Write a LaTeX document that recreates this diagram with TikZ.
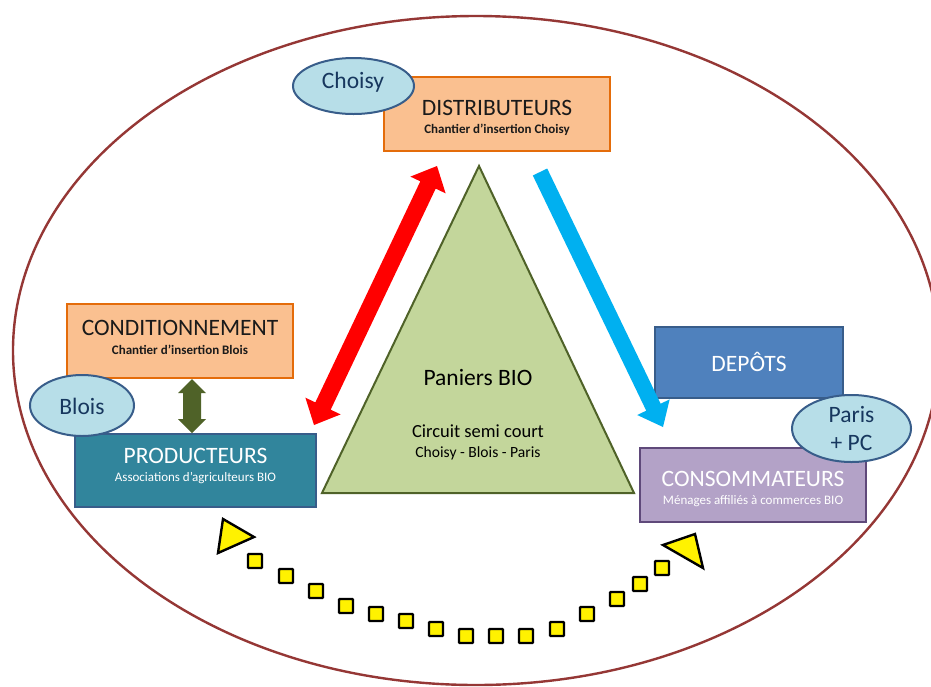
\documentclass[tikz,border=0pt]{standalone}
\usepackage{fontspec}
\setmainfont{Carlito}
\usetikzlibrary{calc,shapes.geometric}

\definecolor{ringred}{HTML}{953735}
\definecolor{orfill}{HTML}{FAC090}
\definecolor{ordraw}{HTML}{E46C0A}
\definecolor{elfill}{HTML}{B7DEE8}
\definecolor{eldraw}{HTML}{385D8A}
\definecolor{eltext}{HTML}{17375E}
\definecolor{prodfill}{HTML}{31859C}
\definecolor{depfill}{HTML}{4F81BD}
\definecolor{consfill}{HTML}{B3A2C7}
\definecolor{consdraw}{HTML}{5F497A}
\definecolor{trifill}{HTML}{C3D69B}
\definecolor{olivedk}{HTML}{4F6228}
\definecolor{skyblue}{HTML}{00B0F0}
\definecolor{txtdark}{HTML}{1A1A1A}

\newcommand\bigtxt{\fontsize{23.5pt}{28pt}\selectfont}
\newcommand\subtxt{\fontsize{13pt}{15pt}\selectfont}

% double block arrow: #1 tip A, #2 tip B, #3 head length, #4 half head, #5 half shaft, #6 colour
\newcommand\dblblock[6]{%
  \coordinate (#1h) at ($(#1)!#3!(#2)$);
  \coordinate (#2h) at ($(#2)!#3!(#1)$);
  \fill[#6] (#1)
    -- ($(#1h)!#4!90:(#2)$) -- ($(#1h)!#5!90:(#2)$)
    -- ($(#2h)!#5!-90:(#1)$) -- ($(#2h)!#4!-90:(#1)$)
    -- (#2)
    -- ($(#2h)!#4!90:(#1)$) -- ($(#2h)!#5!90:(#1)$)
    -- ($(#1h)!#5!-90:(#2)$) -- ($(#1h)!#4!-90:(#2)$)
    -- cycle;}
% single block arrow: #1 tail centre, #2 tip
\newcommand\oneblock[6]{%
  \coordinate (#2h) at ($(#2)!#3!(#1)$);
  \fill[#6] ($(#1)!#5!90:(#2)$)
    -- ($(#2h)!#5!-90:(#1)$) -- ($(#2h)!#4!-90:(#1)$)
    -- (#2)
    -- ($(#2h)!#4!90:(#1)$) -- ($(#2h)!#5!90:(#1)$)
    -- ($(#1)!#5!-90:(#2)$) -- cycle;}

\tikzset{
  obox/.style={draw=ordraw, fill=orfill, line width=2pt, inner sep=0, rectangle},
  bbox/.style={draw=eldraw, line width=2pt, inner sep=0, rectangle},
  tag/.style={ellipse, draw=eldraw, fill=elfill, line width=2pt, inner sep=0},
  txt/.style={inner sep=0, anchor=base},
  sqdot/.style={rectangle, draw=black, fill=yellow, line width=2.4pt, minimum size=14pt, inner sep=0, rounded corners=0.8pt},
  ytri/.style={draw=black, fill=yellow, line width=2.4pt, line join=miter},
}

\begin{document}
\begin{tikzpicture}[x=1pt, y=-1pt]
\useasboundingbox (0,0) rectangle (931,686);
\fill[white] (0,0) rectangle (931,686);

% outer ring
\draw[ringred, line width=2.4pt] (476,350.5) ellipse [x radius=463pt, y radius=334.5pt];

% triangle
\draw[olivedk, fill=trifill, line width=2pt, line join=miter] (479,166) -- (634,493) -- (322,493) -- cycle;

% boxes
\node[obox, minimum width=226pt, minimum height=74pt] (distrib) at (497,114) {};
\node[obox, minimum width=226pt, minimum height=74pt] (cond) at (180,341) {};
\node[bbox, fill=prodfill, minimum width=241pt, minimum height=73pt] (prod) at (195.5,470.5) {};
\node[bbox, fill=depfill, minimum width=188pt, minimum height=71pt] (dep) at (749,362.5) {};
\node[bbox, draw=consdraw, fill=consfill, minimum width=226pt, minimum height=74pt] (cons) at (753,485) {};

% arrows
\coordinate (ga) at (192,379);
\coordinate (gb) at (192,433);
\dblblock{ga}{gb}{14pt}{14pt}{9pt}{olivedk}
\coordinate (ra) at (314,425);
\coordinate (rb) at (437,166);
\dblblock{ra}{rb}{21pt}{19.5pt}{8.5pt}{red}
\coordinate (ba) at (540,172);
\coordinate (bb) at (663,427);
\oneblock{ba}{bb}{22pt}{18pt}{8pt}{skyblue}

% tags
\node[tag, minimum width=121pt, minimum height=56pt] (choisy) at (353.5,86) {};
\node[tag, minimum width=104pt, minimum height=61pt] (blois) at (82,405.5) {};
\node[tag, minimum width=119pt, minimum height=67pt] (paris) at (851.5,428.5) {};

% texts
\node[txt, text=txtdark] (t1) at (497,115) {\bigtxt DISTRIBUTEURS};
\node[txt, text=txtdark] (t2) at (497,133) {\subtxt\bfseries Chantier d’insertion Choisy};
\node[txt, text=txtdark] (t3) at (180,335) {\bigtxt CONDITIONNEMENT};
\node[txt, text=txtdark] (t4) at (180,354) {\subtxt\bfseries Chantier d’insertion Blois};
\node[txt, text=white] (t5) at (195.5,463) {\bigtxt PRODUCTEURS};
\node[txt, text=white] (t6) at (195.5,481) {\subtxt Associations d’agriculteurs BIO};
\node[txt, text=white] (t7) at (749,371) {\bigtxt DEPÔTS};
\node[txt, text=white] (t8) at (753,486) {\bigtxt CONSOMMATEURS};
\node[txt, text=white] (t9) at (753,504) {\subtxt Ménages affiliés à commerces BIO};
\node[txt, text=eltext] (t10) at (353,88.5) {\bigtxt Choisy};
\node[txt, text=eltext] (t11) at (82,414) {\bigtxt Blois};
\node[txt, text=eltext] (t12) at (851.5,422) {\bigtxt Paris};
\node[txt, text=eltext] (t13) at (851.5,450) {\bigtxt + PC};
\node[txt, text=black] (t14) at (478,385.5) {\bigtxt Paniers BIO};
\node[txt, text=black] (t15) at (478,437.5) {\fontsize{18.5pt}{22pt}\selectfont Circuit semi court};
\node[txt, text=black] (t16) at (478,457) {\fontsize{15.6pt}{19pt}\selectfont Choisy - Blois - Paris};

% yellow dotted curved arrow
\foreach \p [count=\i] in {(255,561),(286,576),(316,591),(346,606),(376,614),(406,621),(436,629),(466,636),(496,636),(526,636),(557,629),(587,614),(617,599),(640,584),(662,568)}
  \node[sqdot] (sq\i) at \p {};
\draw[ytri] (223,519) -- (254,537) -- (218,553) -- cycle;
\draw[ytri] (663,545) -- (695,534) -- (703,568) -- cycle;
\end{tikzpicture}
\end{document}
